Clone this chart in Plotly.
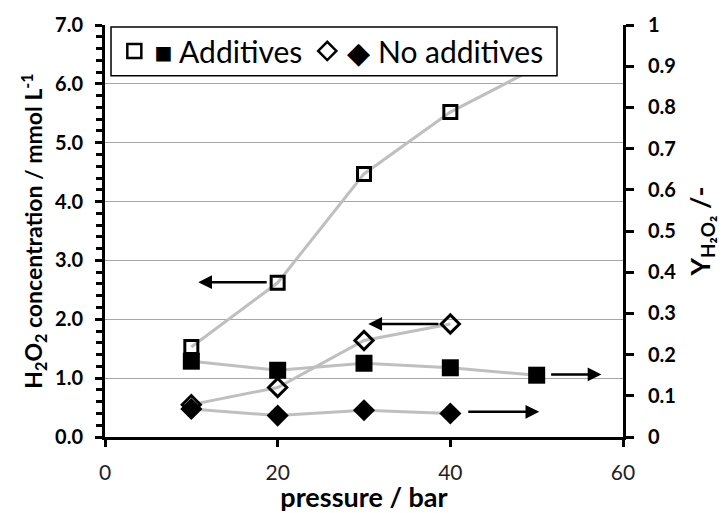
import plotly.graph_objects as go

pressure_add = [10, 20, 30, 40, 50]
conc_add = [1.53, 2.62, 4.47, 5.52, 6.28]
yield_add = [0.184, 0.162, 0.179, 0.168, 0.150]

pressure_noadd = [10, 20, 30, 40]
conc_noadd = [0.55, 0.84, 1.64, 1.92]
yield_noadd = [0.068, 0.052, 0.065, 0.057]

legend_names = ["■ Additives", "◆ No additives"]

# arrows: (head_x, tail_x, y, axis)
arrows = [
    (10.8, 18.9, 2.63, "y"),
    (30.5, 38.8, 1.92, "y"),
    (57.5, 51.5, 0.152, "y2"),
    (50.3, 41.9, 0.061, "y2"),
]

FONT = "Lato"
GRAY = "#bfbfbf"

fig = go.Figure()
fig.add_trace(go.Scatter(
    x=pressure_add, y=conc_add, yaxis="y", mode="lines+markers", showlegend=False,
    line=dict(color=GRAY, width=3),
    marker=dict(symbol="square-open", size=13, color="black", line=dict(width=3, color="black"))))
fig.add_trace(go.Scatter(
    x=pressure_add, y=yield_add, yaxis="y2", mode="lines+markers", showlegend=False,
    line=dict(color=GRAY, width=3),
    marker=dict(symbol="square", size=17, color="black")))
fig.add_trace(go.Scatter(
    x=pressure_noadd, y=conc_noadd, yaxis="y", mode="lines+markers", showlegend=False,
    line=dict(color=GRAY, width=3),
    marker=dict(symbol="diamond-open", size=14, color="black", line=dict(width=3, color="black"))))
fig.add_trace(go.Scatter(
    x=pressure_noadd, y=yield_noadd, yaxis="y2", mode="lines+markers", showlegend=False,
    line=dict(color=GRAY, width=3),
    marker=dict(symbol="diamond", size=17, color="black")))

# legend-only entries (markers only, as in the reference)
fig.add_trace(go.Scatter(
    x=[None], y=[None], mode="markers", name=legend_names[0],
    marker=dict(symbol="square-open", size=14, color="black", line=dict(width=2.5, color="black"))))
fig.add_trace(go.Scatter(
    x=[None], y=[None], mode="markers", name=legend_names[1],
    marker=dict(symbol="diamond-open", size=14, color="black", line=dict(width=2.5, color="black"))))

for hx, tx, yy, ax in arrows:
    fig.add_annotation(x=hx, y=yy, ax=tx, ay=yy, xref="x", yref=ax, axref="x", ayref=ax,
                       text="", showarrow=True, arrowhead=2, arrowsize=1.1,
                       arrowwidth=2.5, arrowcolor="black")

# legend frame (white box, drawn above the data, under the legend texts)
fig.add_shape(type="rect", xref="paper", yref="paper",
              x0=0.0116, x1=0.8726, y0=0.8768, y1=0.9952,
              fillcolor="white", line=dict(color="black", width=1.5), layer="above")

fig.update_layout(
    width=728, height=513,
    margin=dict(l=105, r=105, t=23, b=76),
    paper_bgcolor="white", plot_bgcolor="white",
    font=dict(family=FONT, color="black", size=17),
    legend=dict(orientation="h", x=0.018, y=0.937, xanchor="left", yanchor="middle",
                bgcolor="rgba(0,0,0,0)", borderwidth=0,
                font=dict(family=FONT, size=30), itemwidth=30,
                traceorder="normal"),
    xaxis=dict(range=[0, 60], dtick=20, ticks="outside", ticklen=7, tickwidth=2.5,
               tickcolor="black", showline=True, linewidth=3, linecolor="black",
               showgrid=False, zeroline=False, ticklabelstandoff=8, automargin=False,
               tickfont=dict(family=FONT, size=21, color="#222"),
               title=dict(text="pressure / bar", font=dict(family=FONT, size=27, weight="bold"),
                          standoff=7)),
    yaxis=dict(range=[0, 7], dtick=1, tickformat=".1f", ticks="outside", ticklen=7,
               tickwidth=2.5, tickcolor="black", showline=True, linewidth=3, linecolor="black",
               showgrid=True, gridcolor="#a6a6a6", gridwidth=1, zeroline=False,
               ticklabelstandoff=8, automargin=True,
               minor=dict(dtick=0.2, ticks="outside", ticklen=6, tickwidth=2.5,
                          tickcolor="black", showgrid=False),
               tickfont=dict(family=FONT, size=20, weight="bold"),
               title=dict(text="H<sub>2</sub>O<sub>2</sub> concentration / mmol L<sup>-1</sup>",
                          font=dict(family=FONT, size=23, weight="bold"), standoff=6)),
    yaxis2=dict(range=[0, 1], dtick=0.1, overlaying="y", side="right", ticks="outside",
                ticklen=8, tickwidth=2.5, tickcolor="black", showline=True, linewidth=3,
                linecolor="black", showgrid=False, zeroline=False,
                ticklabelstandoff=10, automargin=False,
                tickfont=dict(family=FONT, size=20, weight="bold"),
                title=dict(text="Y<sub>H₂O₂</sub> /-",
                           font=dict(family=FONT, size=27, weight="bold"), standoff=16)),
)

fig.write_html("out.html")
